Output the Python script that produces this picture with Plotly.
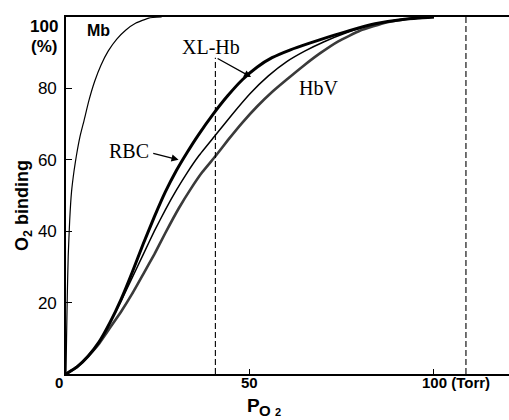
import plotly.graph_objects as go

# ---------------- data ----------------
mb_p = [0, 0.15, 0.35, 0.6, 1.0, 1.5, 2.2, 2.8, 3.8, 4.9, 6.2, 7.8, 9.5, 11.5, 13.8, 16.2, 19, 22.5, 26]
mb_s = [0, 10, 22, 33, 43, 51, 57, 61, 66.5, 71, 76.5, 82, 86.5, 90.5, 93.8, 96.3, 98.3, 99.7, 100]

rbc_p = [0, 3, 6, 9, 12, 15, 18, 21, 24, 27, 30, 33, 36, 40, 44, 48, 52, 56, 61, 66, 71, 77, 84, 92, 100]
rbc_s = [0, 2, 5, 9, 14.5, 21, 28.5, 36.5, 44, 51, 57, 62.2, 67, 72.8, 78, 82.5, 86, 88.6, 90.8,
         92.6, 94.3, 96.2, 98.1, 99.4, 100]

xl_p = [0, 3, 6, 9, 12, 15, 18, 21, 24, 27, 30, 33, 36, 40.7, 45, 50, 55, 60, 65, 70, 76, 83, 91, 100]
xl_s = [0, 2, 5, 9, 14.5, 20.5, 27, 33.5, 40, 46, 51.5, 56.5, 61, 67, 72.5, 78.5, 83.5, 87.5, 90.5,
        93, 95.5, 97.8, 99.3, 100]

hbv_p = [0, 3, 6, 9, 12, 15, 18, 21, 24, 27, 30.7, 34, 37, 40.6, 44, 48, 52, 56, 60, 64.5, 69, 74,
         80, 87, 94, 100]
hbv_s = [0, 2, 5, 8.5, 13, 17.5, 22.5, 28, 33.5, 39.5, 46.5, 52, 56.5, 61, 65.5, 70.5, 75, 79, 82.5,
         86.3, 89.8, 93.2, 96.2, 98.5, 99.6, 100]

dashed_p = [40.6, 108.7]
dashed_top = [88.6, 100]

x_tick_vals = [0, 50, 100]
x_tick_text = ["0", "50", "100 (Torr)"]
y_tick_vals = [20, 40, 60, 80]
y_tick_text = ["20", "40", "60", "80"]

# ---------------- layout geometry ----------------
W, H = 509, 420
ML, MR, MT, MB = 66, 0, 17, 46
X_RANGE = [0, 120.4]
Y_RANGE = [0, 100]
plot_h = H - MT - MB
plot_w = W - ML - MR


def py(ypx):
    return (H - MB - ypx) / plot_h


def px(xpx):
    return (xpx - ML) / plot_w


SANS = "Liberation Sans, Arial, sans-serif"
SERIF = "Liberation Serif, Times New Roman, serif"

fig = go.Figure()

line_shape = dict(shape="spline", smoothing=0.4)
fig.add_trace(go.Scatter(x=mb_p, y=mb_s, mode="lines", line=dict(color="black", width=1.2, **line_shape)))
fig.add_trace(go.Scatter(x=hbv_p, y=hbv_s, mode="lines", line=dict(color="#3a3a3a", width=2.6, **line_shape)))
fig.add_trace(go.Scatter(x=xl_p, y=xl_s, mode="lines", line=dict(color="black", width=1.5, **line_shape)))
fig.add_trace(go.Scatter(x=rbc_p, y=rbc_s, mode="lines", line=dict(color="black", width=3, **line_shape)))

for xv, top in zip(dashed_p, dashed_top):
    fig.add_trace(go.Scatter(x=[xv, xv], y=[0, top], mode="lines",
                             line=dict(color="black", width=1.1, dash="6px,3px")))

ann = []
C = dict(xanchor="center", yanchor="middle", showarrow=False)
# curve labels
ann.append(dict(x=8.8, y=96.3, xref="x", yref="y", text="<b>Mb</b>",
                font=dict(family=SANS, size=16, color="black"), **C))
ann.append(dict(x=39.5, y=91.6, xref="x", yref="y", text="XL-Hb",
                font=dict(family=SERIF, size=20, color="black"), **C))
ann.append(dict(x=17.0, y=62.6, xref="x", yref="y", text="RBC",
                font=dict(family=SERIF, size=20, color="black"), **C))
ann.append(dict(x=68.7, y=80.2, xref="x", yref="y", text="HbV",
                font=dict(family=SERIF, size=20, color="black"), **C))
# arrows
ann.append(dict(x=50.3, y=83.2, ax=40.8, ay=88.6, xref="x", yref="y", axref="x", ayref="y",
                text="", showarrow=True, arrowhead=2, arrowsize=1.1, arrowwidth=1.3, arrowcolor="black"))
ann.append(dict(x=30.6, y=60.0, ax=23.3, ay=61.9, xref="x", yref="y", axref="x", ayref="y",
                text="", showarrow=True, arrowhead=2, arrowsize=1.1, arrowwidth=1.3, arrowcolor="black"))
# y-axis top label and unit
ann.append(dict(x=px(60), y=97.4, xref="paper", yref="y", xanchor="right", yanchor="middle",
                text="<b>100</b>", showarrow=False, font=dict(family=SANS, size=17, color="black")))
ann.append(dict(x=px(59), y=91.6, xref="paper", yref="y", xanchor="right", yanchor="middle",
                text="<b>(%)</b>", showarrow=False, font=dict(family=SANS, size=17, color="black")))
# x tick labels (drawn as annotations to match placement)
x_shifts = [-7, 0, -14]
x_anchors = ["center", "center", "left"]
for v, t, s, a in zip(x_tick_vals, x_tick_text, x_shifts, x_anchors):
    ann.append(dict(x=v, y=py(382), xref="x", yref="paper", text="<b>" + t + "</b>",
                    xanchor=a, yanchor="middle", xshift=s, showarrow=False,
                    font=dict(family=SANS, size=15, color="black")))
# axis titles
ann.append(dict(x=px(23), y=py(206), xref="paper", yref="paper", textangle=-90,
                text="<b>O<sub>2</sub> binding</b>",
                font=dict(family=SANS, size=18, color="black"), **C))
ann.append(dict(x=px(253), y=py(406), xref="paper", yref="paper", text="<b>P</b>",
                font=dict(family=SANS, size=19, color="black"), **C))
ann.append(dict(x=px(265), y=py(410), xref="paper", yref="paper", text="<b>O</b>",
                font=dict(family=SANS, size=15, color="black"), **C))
ann.append(dict(x=px(278), y=py(412), xref="paper", yref="paper", text="<b>2</b>",
                font=dict(family=SANS, size=11, color="black"), **C))

fig.update_layout(
    width=W, height=H,
    margin=dict(l=ML, r=MR, t=MT, b=MB, pad=0),
    paper_bgcolor="white", plot_bgcolor="white",
    showlegend=False,
    annotations=ann,
    xaxis=dict(range=X_RANGE, showgrid=False, zeroline=False, showline=True, mirror=True,
               linecolor="black", linewidth=1.6, ticks="inside", ticklen=5, tickwidth=1.2,
               tickcolor="black", tickvals=x_tick_vals, showticklabels=False, fixedrange=True),
    yaxis=dict(range=Y_RANGE, showgrid=False, zeroline=False, showline=True, mirror=False,
               linecolor="black", linewidth=1.6, ticks="inside", ticklen=6, tickwidth=1.2,
               tickcolor="black", tickvals=y_tick_vals, ticktext=y_tick_text, ticklabelstandoff=4,
               tickfont=dict(family=SANS, size=17, color="black"), fixedrange=True),
)

fig.write_html("out.html")
